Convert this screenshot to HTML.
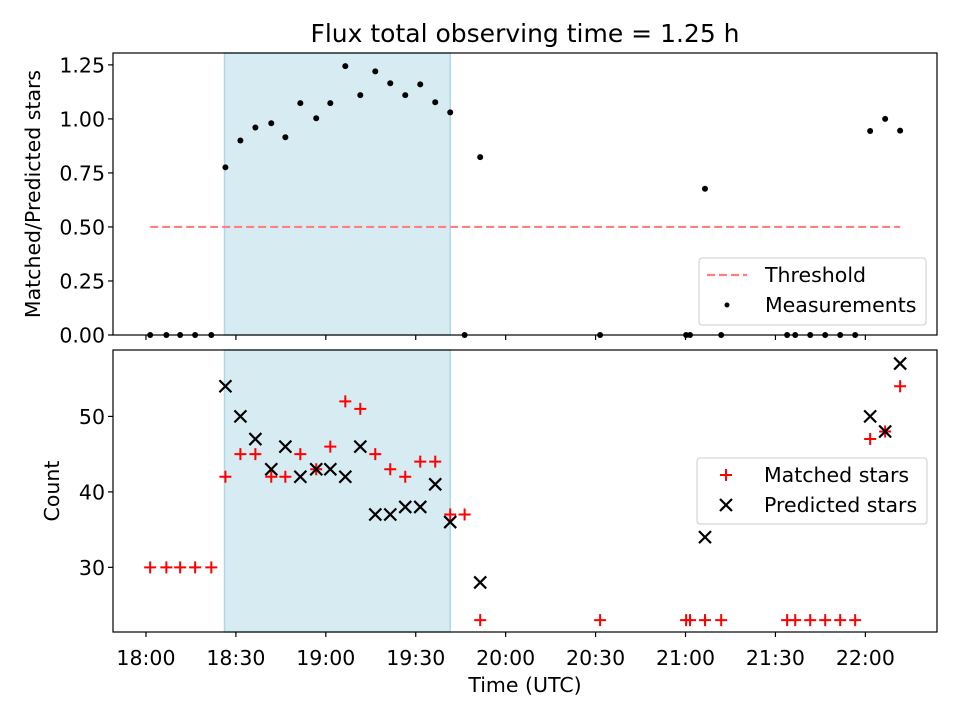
<!DOCTYPE html>
<html><head><meta charset="utf-8"><style>
body{margin:0;background:#fff;}
svg{display:block;font-family:"DejaVu Sans","Liberation Sans",sans-serif;}
</style></head><body>
<svg id="chart" width="960" height="720" viewBox="0 0 960 720" xmlns="http://www.w3.org/2000/svg"></svg>
<script>
// minutes after 18:00
const measTimes=[1.4,6.8,11.4,16.4,21.8,26.5,31.5,36.5,41.8,46.5,51.5,56.8,61.5,66.5,71.5,76.5,81.5,86.5,91.5,96.5,101.5,106.3,111.5,151.5,180.2,181.5,186.5,191.9,213.9,216.6,221.6,226.6,231.6,236.6,241.6,246.6,251.6];
const ratioValues=[0,0,0,0,0,0.776,0.90,0.96,0.98,0.915,1.073,1.003,1.073,1.244,1.11,1.22,1.165,1.11,1.16,1.077,1.03,0,0.823,0,0,0,0.677,0,0,0,0,0,0,0,0.944,1.0,0.946];
const matchedValues=[30,30,30,30,30,42,45,45,42,42,45,43,46,52,51,45,43,42,44,44,37,37,23,23,23,23,23,23,23,23,23,23,23,23,47,48,54];
const predTimes=[26.5,31.5,36.5,41.8,46.5,51.5,56.8,61.5,66.5,71.5,76.5,81.5,86.5,91.5,96.5,101.5,111.5,186.5,241.6,246.6,251.6];
const predValues=[54,50,47,43,46,42,43,43,42,46,37,37,38,38,41,36,28,34,50,48,57];
const threshold=0.5;
const shadeRange=[26.2,101.5];
const xTickMins=[0,30,60,90,120,150,180,210,240];
const xTickLabels=["18:00","18:30","19:00","19:30","20:00","20:30","21:00","21:30","22:00"];
const topTicks=[0,0.25,0.5,0.75,1.0,1.25];
const botTicks=[30,40,50];

const NS="http://www.w3.org/2000/svg";
const svg=document.getElementById('chart');
function mk(tag,attrs,parent){const e=document.createElementNS(NS,tag);for(const k in attrs)e.setAttribute(k,attrs[k]);(parent||svg).appendChild(e);return e;}
const L=113,R=937;
const FS=20.5;
const X=m=>L+(m+11.0)/(263.9+11.0)*(R-L);
const T0=53,T1=335, B0=350,B1=632;
const Yt=v=>T1-(v-0)/(1.305)*(T1-T0);
const Yb=v=>B1-(v-21.43)/(58.8-21.43)*(B1-B0);

let e;
e=mk('text',{x:525,y:42,'font-size':25,'text-anchor':'middle',fill:'#000'});e.textContent='Flux total observing time = 1.25 h';



function panel(y0,y1,name){
  const g=mk('g',{});
  
  
  const s=mk('rect',{x:X(shadeRange[0]),y:y0,width:X(shadeRange[1])-X(shadeRange[0]),height:y1-y0,fill:'#add8e6','fill-opacity':0.5,stroke:'#add8e6','stroke-width':1.5},g);
  
  
  return g;
}
const gt=panel(T0,T1,'top-panel');
const gb=panel(B0,B1,'bottom-panel');

e=mk('line',{x1:X(measTimes[0]),x2:X(measTimes[measTimes.length-1]),y1:Yt(threshold),y2:Yt(threshold),stroke:'#ff7f7f','stroke-width':2.2,'stroke-dasharray':'8,4'},gt);


measTimes.forEach((m,i)=>{
  const c=mk('circle',{cx:X(m),cy:Yt(ratioValues[i]),r:3,fill:'#000'},gt);
  
  
});
function plus(x,y,g){return mk('path',{d:`M${x-6},${y}H${x+6}M${x},${y-6}V${y+6}`,stroke:'#f00','stroke-width':2,fill:'none'},g);}
function cross(x,y,g){return mk('path',{d:`M${x-6},${y-6}L${x+6},${y+6}M${x-6},${y+6}L${x+6},${y-6}`,stroke:'#000','stroke-width':2.2,fill:'none'},g);}
measTimes.forEach((m,i)=>{
  const p=plus(X(m),Yb(matchedValues[i]),gb);
  
  
});
predTimes.forEach((m,i)=>{
  const p=cross(X(m),Yb(predValues[i]),gb);
  
  
});

[[T0,T1,'top-frame'],[B0,B1,'bottom-frame']].forEach(([a,b,n])=>{
  const r=mk('rect',{x:L,y:a,width:R-L,height:b-a,fill:'none',stroke:'#000','stroke-width':1.2});
  
  
});
xTickMins.forEach((m,i)=>{
  mk('line',{x1:X(m),x2:X(m),y1:T1,y2:T1+5,stroke:'#000','stroke-width':1.2});
  mk('line',{x1:X(m),x2:X(m),y1:B1,y2:B1+5,stroke:'#000','stroke-width':1.2});
  const t=mk('text',{x:X(m),y:665,'font-size':FS,'text-anchor':'middle'});t.textContent=xTickLabels[i];
  
  
});
topTicks.forEach(v=>{
  mk('line',{x1:L-5,x2:L,y1:Yt(v),y2:Yt(v),stroke:'#000','stroke-width':1.2});
  const t=mk('text',{x:L-8,y:Yt(v)+7.5,'font-size':FS,'text-anchor':'end'});t.textContent=v.toFixed(2);
  
  
});
botTicks.forEach(v=>{
  mk('line',{x1:L-5,x2:L,y1:Yb(v),y2:Yb(v),stroke:'#000','stroke-width':1.2});
  const t=mk('text',{x:L-8,y:Yb(v)+7.5,'font-size':FS,'text-anchor':'end'});t.textContent=v;
  
  
});
e=mk('text',{x:525,y:692,'font-size':FS,'text-anchor':'middle'});e.textContent='Time (UTC)';


e=mk('text',{x:0,y:0,'font-size':FS,'text-anchor':'middle',transform:`translate(40,${(T0+T1)/2}) rotate(-90)`});e.textContent='Matched/Predicted stars';


e=mk('text',{x:0,y:0,'font-size':FS,'text-anchor':'middle',transform:`translate(59,${(B0+B1)/2}) rotate(-90)`});e.textContent='Count';



function legend(x,y,w,h,name){const g=mk('g',{});
  
  
  mk('rect',{x:x,y:y,width:w,height:h,rx:3,fill:'#fff','fill-opacity':0.8,stroke:'#ccc'},g);return g;}
let lg=legend(699,258,227,67,'top-legend');
mk('line',{x1:707,x2:747,y1:275,y2:275,stroke:'#ff7f7f','stroke-width':2.2,'stroke-dasharray':'8,4'},lg);
e=mk('text',{x:765,y:282,'font-size':FS},lg);e.textContent='Threshold';


mk('circle',{cx:727,cy:305,r:2.5,fill:'#000'},lg);
e=mk('text',{x:765,y:312,'font-size':FS},lg);e.textContent='Measurements';


lg=legend(697,458,230,66,'bottom-legend');
plus(726,475,lg);
e=mk('text',{x:764,y:482,'font-size':FS},lg);e.textContent='Matched stars';


cross(726,505,lg);
e=mk('text',{x:764,y:512,'font-size':FS},lg);e.textContent='Predicted stars';


</script>
</body></html>
